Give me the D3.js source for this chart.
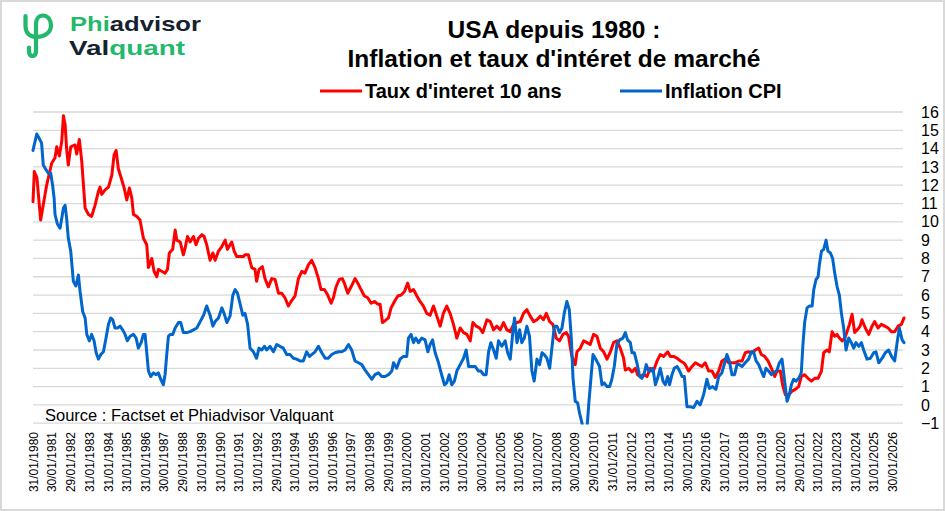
<!DOCTYPE html>
<html>
<head>
<meta charset="utf-8">
<script src="https://cdn.jsdelivr.net/npm/d3@7"></script>
<style>
body { margin: 0; background: #fff; }
svg { display: block; font-family: Arial, "Liberation Sans", sans-serif; }
</style>
</head>
<body>
<svg width="945" height="511"></svg>
<script>
// 10 year rate (decimal years)
const rateDates = [
	1980.08,1980.15,1980.29,1980.49,1980.81,1981.08,1981.26,1981.35,1981.49,1981.62,
	1981.71,1981.80,1981.88,1981.97,1982.10,1982.33,1982.42,1982.56,1982.69,1982.87,
	1983.05,1983.22,1983.40,1983.58,1983.67,1983.76,1983.94,1984.12,1984.30,1984.42,
	1984.53,1984.65,1984.83,1984.96,1985.10,1985.24,1985.37,1985.46,1985.63,1985.81,
	1985.99,1986.17,1986.26,1986.44,1986.56,1986.71,1986.79,1986.97,1987.15,1987.28,
	1987.38,1987.56,1987.69,1987.78,1987.96,1988.13,1988.22,1988.35,1988.49,1988.67,
	1988.81,1988.94,1989.12,1989.24,1989.38,1989.56,1989.71,1989.83,1990.01,1990.19,
	1990.37,1990.49,1990.63,1990.72,1990.85,1990.99,1991.17,1991.35,
	1991.43,1991.61,1991.79,1991.97,1992.05,1992.18,1992.36,1992.50,1992.68,1992.86,
	1993.04,1993.22,1993.39,1993.57,1993.75,1993.93,1994.11,1994.29,1994.47,1994.64,
	1994.82,1995.00,1995.18,1995.36,1995.50,1995.68,1995.86,1996.04,1996.16,1996.29,
	1996.47,1996.64,1996.75,1996.93,1997.11,1997.32,1997.47,1997.64,1997.82,1998.00,
	1998.18,1998.36,1998.54,1998.66,1998.79,1998.93,1999.11,1999.25,1999.43,1999.61,
	1999.79,1999.97,2000.14,2000.27,2000.45,2000.63,2000.80,2000.98,2001.16,2001.34,
	2001.52,2001.70,2001.88,2002.05,2002.23,2002.41,2002.59,2002.77,
	2002.95,2003.13,2003.31,2003.49,2003.63,2003.81,2003.99,2004.16,2004.38,2004.56,
	2004.74,2004.91,2005.09,2005.27,2005.45,2005.63,2005.81,2005.99,2006.16,2006.34,
	2006.52,2006.70,2006.88,2007.06,2007.24,2007.41,2007.56,2007.74,2007.91,2008.09,
	2008.27,2008.45,2008.63,2008.75,2008.93,2009.11,2009.20,2009.38,2009.56,2009.74,
	2009.91,2010.09,2010.27,2010.45,2010.63,2010.81,2010.99,2011.16,2011.34,2011.52,
	2011.70,2011.79,2011.97,2012.15,2012.33,2012.45,2012.59,2012.77,2012.95,2013.13,
	2013.31,2013.49,2013.66,2013.84,2014.06,2014.20,2014.38,2014.56,2014.74,2014.91,
	2015.00,2015.18,2015.36,2015.54,2015.71,2015.89,2016.07,2016.25,2016.43,2016.61,
	2016.79,2016.96,2017.14,2017.32,2017.50,2017.68,2017.86,2018.04,2018.21,2018.39,
	2018.57,2018.75,2018.93,2019.07,2019.25,2019.43,2019.61,2019.79,2019.91,2020.09,
	2020.21,2020.36,2020.54,2020.71,2020.89,2021.07,2021.21,2021.39,2021.57,2021.75,
	2021.93,2022.11,2022.29,2022.41,2022.59,2022.71,2022.86,2023.00,2023.13,2023.25,
	2023.39,2023.54,2023.66,2023.79,2023.93,2024.07,2024.21,2024.36,2024.46,2024.64,
	2024.82,2025.00,2025.14,2025.32,2025.50,2025.68,2025.86,2026.04,2026.21,2026.39,
	2026.57,2026.71
];
const rateValues = [
	11.1,12.75,12.4,10.1,12.0,13.2,13.5,14.1,13.6,14.4,
	15.8,15.3,14.0,13.1,14.1,14.2,13.7,14.5,13.3,10.75,
	10.4,10.3,10.9,11.65,11.9,11.5,11.75,11.9,12.55,13.65,
	13.9,12.9,12.3,11.85,11.2,11.85,11.3,10.4,10.3,10.1,
	9.1,8.75,7.5,8.0,7.3,7.0,7.4,7.3,7.2,7.4,
	8.3,8.5,9.55,9.0,8.9,8.2,8.55,9.2,8.9,9.2,
	8.75,9.1,9.3,9.2,8.75,7.9,8.3,7.9,8.4,8.65,
	9.0,8.5,8.75,8.9,8.4,8.1,8.1,8.1,
	8.2,8.2,7.5,7.4,6.75,7.4,7.55,6.9,6.45,6.9,
	6.85,6.1,6.1,5.85,5.4,5.7,5.95,6.9,7.3,7.2,
	7.65,7.9,7.5,6.9,6.3,6.3,6.0,5.55,5.85,6.4,
	6.85,6.9,6.65,6.1,6.45,6.9,6.65,6.3,5.95,5.85,
	5.55,5.65,5.5,5.5,4.5,4.6,4.75,5.3,5.65,5.95,
	6.0,6.2,6.65,6.2,6.3,5.95,5.65,5.4,5.0,4.9,
	5.4,4.85,4.3,5.0,5.4,5.0,4.4,3.65,
	4.2,3.95,3.85,3.5,4.5,4.3,4.2,3.95,4.65,4.55,
	4.1,4.3,4.1,4.5,4.1,4.0,4.4,4.5,4.55,5.0,
	5.2,4.85,4.55,4.65,4.85,4.65,5.0,4.55,4.4,3.65,
	3.5,3.85,3.95,3.75,2.65,2.2,2.9,3.1,3.5,3.4,
	3.3,3.85,3.75,3.1,2.9,2.5,2.9,3.4,3.5,3.1,
	2.55,1.9,2.0,1.8,2.0,1.65,1.55,1.65,1.55,2.0,
	1.9,2.4,2.75,2.65,2.9,2.65,2.65,2.55,2.4,2.3,
	2.2,1.85,2.1,2.3,2.2,2.1,2.3,1.85,1.85,1.5,
	1.85,2.4,2.5,2.3,2.3,2.3,2.4,2.4,2.85,2.9,
	2.85,3.0,3.1,2.75,2.65,2.4,2.0,1.55,1.85,1.85,
	1.1,0.55,0.55,0.75,0.85,1.0,1.55,1.65,1.45,1.3,
	1.45,1.45,1.85,2.85,3.0,2.9,4.0,3.75,3.85,3.65,
	3.5,3.65,4.0,4.4,4.95,3.95,4.1,4.3,4.65,4.2,
	3.85,4.3,4.55,4.2,4.4,4.3,4.2,4.0,4.0,4.3,
	4.4,4.75
];

// CPI inflation (decimal years)
const cpiDates = [
	1980.08,1980.28,1980.42,1980.54,1980.63,1980.78,1980.90,1981.03,1981.13,1981.21,
	1981.26,1981.38,1981.53,1981.62,1981.71,1981.80,1981.88,1981.97,1982.10,1982.24,
	1982.38,1982.51,1982.60,1982.74,1982.87,1982.96,1983.10,1983.22,1983.35,1983.46,
	1983.58,1983.71,1983.85,1983.99,1984.12,1984.24,1984.35,1984.47,1984.60,1984.74,
	1984.88,1985.01,1985.13,1985.28,1985.46,1985.60,1985.72,1985.87,1985.99,1986.08,
	1986.17,1986.26,1986.38,1986.53,1986.67,1986.79,1986.92,1987.06,1987.15,1987.24,
	1987.33,1987.42,1987.56,1987.69,1987.87,1987.99,1988.13,1988.31,1988.49,1988.67,
	1988.85,1989.03,1989.21,1989.38,1989.56,1989.71,1989.83,1990.01,1990.19,1990.31,
	1990.46,1990.63,1990.78,1990.90,1991.03,1991.17,1991.31,
	1991.43,1991.57,1991.70,1991.88,1992.05,1992.18,1992.32,1992.47,1992.59,1992.77,
	1992.95,1993.13,1993.30,1993.48,1993.66,1993.84,1994.02,1994.20,1994.38,1994.55,
	1994.73,1994.88,1995.00,1995.18,1995.36,1995.54,1995.72,1995.89,1996.07,1996.25,
	1996.43,1996.61,1996.79,1996.97,1997.14,1997.32,1997.50,1997.68,1997.86,1998.04,
	1998.22,1998.39,1998.57,1998.75,1998.93,1999.11,1999.29,1999.38,1999.55,1999.73,
	1999.91,2000.09,2000.18,2000.32,2000.45,2000.57,2000.72,2000.89,2001.07,2001.22,
	2001.34,2001.47,2001.61,2001.79,2001.93,2002.11,2002.23,2002.36,2002.50,2002.64,
	2002.77,
	2002.95,2003.13,2003.27,2003.40,2003.58,2003.75,2003.93,2004.06,2004.20,2004.34,
	2004.47,2004.59,2004.74,2004.88,2005.00,2005.18,2005.36,2005.49,2005.63,2005.77,
	2005.86,2005.99,2006.13,2006.25,2006.38,2006.52,2006.66,2006.79,2006.91,2007.06,
	2007.20,2007.33,2007.45,2007.59,2007.74,2007.86,2007.99,2008.13,2008.27,2008.40,
	2008.52,2008.66,2008.79,2008.90,2008.99,2009.11,2009.24,2009.34,2009.47,2009.59,
	2009.74,2009.83,2009.95,2010.06,2010.18,2010.31,2010.41,2010.54,2010.66,2010.81,
	2010.95,2011.07,2011.20,2011.34,2011.49,2011.66,2011.79,2011.91,2012.06,2012.15,
	2012.27,2012.41,2012.56,2012.68,2012.81,2012.91,2013.04,2013.16,2013.27,2013.40,
	2013.52,2013.66,2013.81,2013.93,2014.06,2014.16,2014.29,2014.41,2014.56,2014.70,
	2014.83,2014.95,
	2015.09,2015.27,2015.45,2015.63,2015.80,2015.98,2016.16,2016.29,2016.46,2016.64,
	2016.79,2016.96,2017.11,2017.23,2017.36,2017.50,2017.64,2017.77,2017.89,2018.04,
	2018.21,2018.39,2018.54,2018.66,2018.79,2018.93,2019.07,2019.20,2019.32,2019.46,
	2019.61,2019.73,2019.91,2020.04,2020.18,2020.32,2020.45,2020.57,2020.68,2020.80,
	2020.93,2021.07,2021.21,2021.30,2021.39,2021.52,2021.64,2021.79,2021.88,2022.00,
	2022.11,2022.18,2022.29,2022.41,2022.54,2022.64,2022.77,2022.89,2023.00,2023.13,
	2023.25,2023.36,2023.48,2023.61,2023.75,2023.89,2024.02,2024.14,2024.29,2024.43,
	2024.55,2024.73,2024.91,2025.09,2025.21,2025.36,2025.54,2025.71,2025.89,2026.04,
	2026.21,2026.34,2026.46,2026.61,2026.71
];
const cpiValues = [
	13.9,14.8,14.55,14.3,13.1,12.85,12.65,12.65,12.0,11.3,
	10.4,9.9,9.65,10.2,10.75,10.9,10.2,9.1,8.4,6.75,
	6.5,7.1,6.2,5.1,4.75,3.85,3.5,3.85,3.5,2.85,
	2.5,2.75,2.9,3.65,4.4,4.75,4.65,4.2,4.2,4.3,
	4.1,3.85,3.5,3.75,3.85,3.65,3.1,3.4,3.85,3.85,
	2.85,1.85,1.55,1.75,1.65,1.75,1.4,1.1,1.65,2.75,
	3.75,3.85,3.85,4.2,4.5,4.5,3.95,3.95,4.0,4.1,
	4.2,4.55,4.9,5.4,4.9,4.3,4.55,4.75,5.3,5.0,
	4.5,4.85,6.0,6.3,6.1,5.5,4.9,
	5.0,4.4,3.1,2.9,2.55,3.1,3.0,3.2,3.0,3.2,
	2.9,3.3,3.2,3.1,2.75,2.75,2.55,2.5,2.4,2.4,
	2.9,2.65,2.75,2.9,3.2,2.85,2.55,2.55,2.75,2.85,
	2.9,2.9,3.0,3.3,3.0,2.4,2.3,2.2,1.9,1.65,
	1.4,1.65,1.75,1.55,1.55,1.65,1.85,2.3,2.0,2.5,
	2.65,2.65,3.65,3.85,3.4,3.65,3.4,3.65,3.55,2.9,
	3.3,3.55,2.85,2.3,1.75,1.1,1.2,1.65,1.1,1.3,
	1.85,
	2.2,2.55,3.0,2.1,2.1,2.1,1.85,1.85,1.65,1.65,
	2.9,3.4,3.0,2.55,3.5,3.2,3.5,2.85,2.5,4.0,
	4.75,3.4,4.1,3.4,3.65,4.3,3.75,1.85,1.3,2.5,
	2.2,2.85,2.75,2.55,2.0,3.1,4.3,4.3,3.95,4.2,
	5.0,5.65,5.2,3.65,1.45,0.2,0.1,-0.45,-1.0,-1.6,
	-1.3,0.0,1.45,2.75,2.55,2.3,2.1,1.1,1.2,1.0,
	1.0,1.4,2.1,3.3,3.55,3.65,3.95,3.55,3.4,2.85,
	2.85,2.3,1.55,1.45,1.75,2.2,1.85,1.85,2.0,1.1,
	1.45,2.0,1.3,1.1,1.55,1.1,1.65,2.0,2.1,1.85,
	1.55,1.55,
	-0.1,-0.1,-0.15,0.2,0.0,0.55,1.4,0.9,1.0,0.85,
	1.55,1.75,2.3,2.75,2.4,1.65,1.65,2.2,2.2,2.1,
	2.3,2.5,2.9,2.9,2.4,2.2,1.85,1.55,2.0,1.85,
	1.65,1.75,1.9,2.3,2.5,1.3,0.2,0.55,1.1,1.4,
	1.3,1.45,1.75,3.3,4.5,5.3,5.4,5.4,6.3,6.85,
	7.0,7.65,8.4,8.5,9.0,8.4,8.3,8.0,7.2,6.45,
	6.0,5.0,4.2,3.0,3.65,3.4,3.1,3.4,3.2,3.4,
	3.0,2.5,2.55,2.85,2.9,2.3,2.55,2.85,3.0,2.65,
	2.4,3.4,4.2,3.55,3.4
];

const dateLabels = [
	"31/01/1980","30/01/1981","29/01/1982","31/01/1983","31/01/1984","31/01/1985",
	"31/01/1986","30/01/1987","29/01/1988","31/01/1989","31/01/1990","31/01/1991",
	"31/01/1992","29/01/1993","31/01/1994","31/01/1995","31/01/1996","31/01/1997",
	"30/01/1998","29/01/1999","31/01/2000","31/01/2001","31/01/2002","31/01/2003",
	"30/01/2004","31/01/2005","31/01/2006","31/01/2007","31/01/2008","30/01/2009",
	"29/01/2010","31/01/2011","31/01/2012","31/01/2013","31/01/2014","30/01/2015",
	"29/01/2016","31/01/2017","31/01/2018","31/01/2019","31/01/2020","29/01/2021",
	"31/01/2022","31/01/2023","31/01/2024","31/01/2025","30/01/2026"
];
const yTicks = [-1,0,1,2,3,4,5,6,7,8,9,10,11,12,13,14,15,16];

const seriesNames = ["Taux d'interet 10 ans", "Inflation CPI"];
const seriesColors = ["#ff0000", "#0066cc"];

const svg = d3.select("svg");

// label "dd/mm/yyyy" -> decimal year
const toYear = (s) => {
	const p = s.split("/").map(Number);
	return p[2] + (p[1] - 1) / 12 + p[0] / 365;
};

const x = d3.scaleLinear()
	.domain([d3.min(rateDates), d3.max(rateDates)])
	.range([33, 904]);

const y = d3.scaleLinear()
	.domain([-1, 16])
	.range([423.2, 112]);

// frame
svg.append("rect")
	.attr("x", 1).attr("y", 1)
	.attr("width", 943).attr("height", 509)
	.attr("fill", "#fff")
	.attr("stroke", "#d9d9d9")
	.attr("stroke-width", 2);

// gridlines
svg.append("g")
	.selectAll("line")
	.data(yTicks)
	.enter()
	.append("line")
	.attr("x1", 33).attr("x2", 903)
	.attr("y1", (d) => y(d)).attr("y2", (d) => y(d))
	.attr("stroke", "#d9d9d9")
	.attr("stroke-width", 1.3);

// right axis
const yAxis = svg.append("g")
	.attr("transform", "translate(903,0)")
	.call(d3.axisRight(y).tickValues(yTicks).tickSize(0).tickPadding(18));
yAxis.select(".domain").remove();
yAxis.selectAll("text")
	.attr("font-size", 16)
	.attr("font-family", "Arial, 'Liberation Sans', sans-serif")
	.attr("fill", "#000");

// bottom axis with vertical date labels
const xAxis = svg.append("g")
	.attr("transform", "translate(0,423)")
	.call(d3.axisBottom(x)
		.tickValues(dateLabels.map(toYear))
		.tickFormat((d, i) => dateLabels[i])
		.tickSize(0));
xAxis.select(".domain").remove();
xAxis.selectAll("text")
	.attr("transform", "rotate(-90)")
	.attr("text-anchor", "end")
	.attr("x", -9)
	.attr("y", 0)
	.attr("dy", "0.35em")
	.attr("font-size", 12)
	.attr("font-family", "Arial, 'Liberation Sans', sans-serif")
	.attr("fill", "#000");

// source
svg.append("text")
	.attr("x", 45).attr("y", 420.5)
	.attr("font-size", 16.5)
	.attr("fill", "#000")
	.text("Source : Factset et Phiadvisor Valquant");

// lines
svg.append("clipPath").attr("id", "plot")
	.append("rect")
	.attr("x", 20).attr("y", 100)
	.attr("width", 900).attr("height", 324.5);

const line = d3.line()
	.x((d) => x(d[0]))
	.y((d) => y(d[1]));

const lines = svg.append("g").attr("clip-path", "url(#plot)");
[d3.zip(rateDates, rateValues), d3.zip(cpiDates, cpiValues)].forEach((data, i) => {
	lines.append("path")
		.datum(data)
		.attr("d", line)
		.attr("fill", "none")
		.attr("stroke", seriesColors[i])
		.attr("stroke-width", 3)
		.attr("stroke-linejoin", "round")
		.attr("stroke-linecap", "round");
});

// title
const title = svg.append("text")
	.attr("text-anchor", "middle")
	.attr("font-weight", "bold")
	.attr("font-size", 24.5)
	.attr("fill", "#000");
title.append("tspan").attr("x", 554).attr("y", 37.5).text("USA depuis 1980 :");
title.append("tspan").attr("x", 554).attr("y", 66.5).text("Inflation et taux d'intéret de marché");

// legend
const legendX = [320, 620];
seriesNames.forEach((name, i) => {
	const g = svg.append("g").attr("transform", `translate(${legendX[i]},91)`);
	g.append("line")
		.attr("x1", 0).attr("x2", 42)
		.attr("stroke", seriesColors[i])
		.attr("stroke-width", 3);
	g.append("text")
		.attr("x", 45).attr("y", 7)
		.attr("font-weight", "bold")
		.attr("font-size", 20)
		.attr("fill", "#000")
		.text(name);
});

// logo
const green = "#24b86c";
const navy = "#14222e";
svg.append("path")
	.attr("d", "M25.5,16 V26 C25.5,33 30,37 37,37 C45,37 51,32 51,25.5 C51,19.5 47.5,15.5 43,15.5 C39,15.5 36,19 36,24 V51 C36,54.5 34.5,56 32.5,56 C30.5,56 29,54.5 29,51 V47.5")
	.attr("fill", "none")
	.attr("stroke", green)
	.attr("stroke-width", 4.2)
	.attr("stroke-linecap", "round")
	.attr("stroke-linejoin", "round");

const logoLines = [
	{ x: 70, y: 31, w: 131, parts: [["Phi", green], ["advisor", navy]] },
	{ x: 69, y: 55, w: 116, parts: [["Val", navy], ["quant", green]] }
];
logoLines.forEach((l) => {
	const t = svg.append("text")
		.attr("x", l.x).attr("y", l.y)
		.attr("font-family", "'Liberation Sans', Arial, sans-serif")
		.attr("font-weight", "bold")
		.attr("font-size", 21)
		.attr("textLength", l.w)
		.attr("lengthAdjust", "spacingAndGlyphs");
	l.parts.forEach((p) => t.append("tspan").attr("fill", p[1]).text(p[0]));
});
</script>
</body>
</html>
